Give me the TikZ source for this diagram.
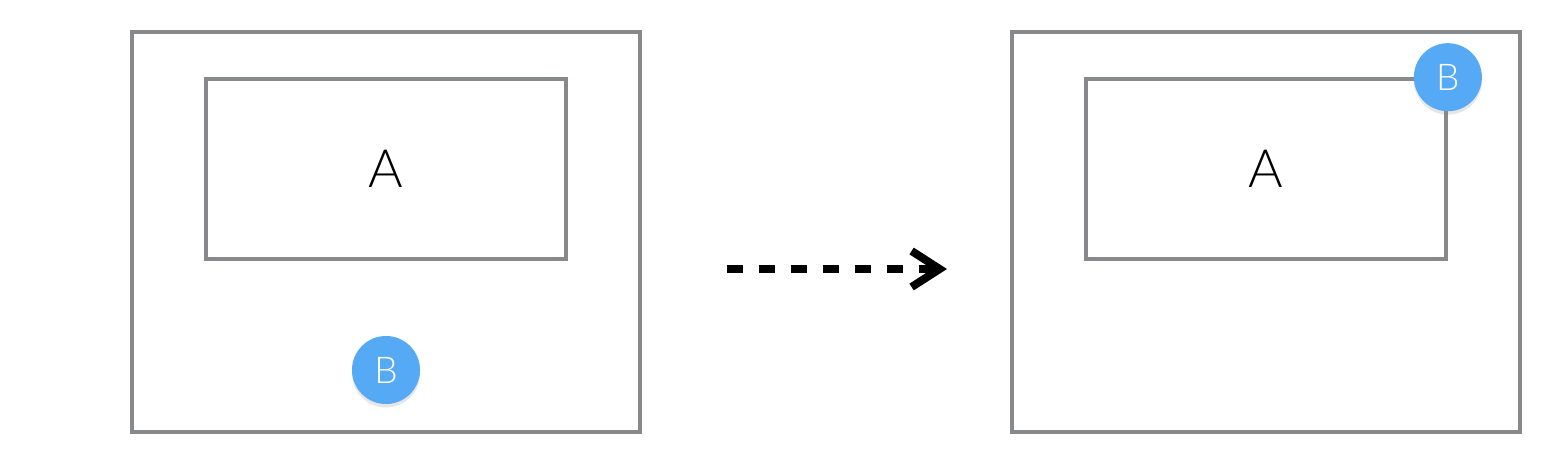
\documentclass[tikz,border=0pt]{standalone}
\usepackage{fontspec}
\setmainfont{Lato}[UprightFont={* Light}]
\usetikzlibrary{arrows.meta,shadows}
\definecolor{framegray}{HTML}{88898C}
\definecolor{bubbleblue}{HTML}{55A9F5}
\tikzset{
	outerbox/.style={draw=framegray, line width=0.035cm, inner sep=0pt, minimum width=5.08cm, minimum height=4cm},
	innerbox/.style={draw=framegray, line width=0.035cm, inner sep=0pt, minimum width=3.6cm, minimum height=1.8cm, font=\fontsize{15}{18}\selectfont},
	ball/.style={circle, fill=bubbleblue, text=white, minimum size=0.68cm, inner sep=0pt, font=\fontsize{10.5}{12}\selectfont, drop shadow={opacity=0.2, shadow xshift=0cm, shadow yshift=-0.035cm}}
}
\begin{document}
\begin{tikzpicture}[x=0.01cm, y=-0.01cm]
\useasboundingbox (0,0) rectangle (1558,470);
% before
\node[outerbox] (leftouter) at (386,232) {};
\node[innerbox] (leftinner) at (386,169) {A};
\node[ball] (leftball) at (386,370) {B};
% after
\node[outerbox] (rightouter) at (1266,232) {};
\node[innerbox] (rightinner) at (1266,169) {A};
\node[ball] (rightball) at (rightinner.north east) {B};
% move
\coordinate (start) at (727,269);
\coordinate (stop) at (947,269);
\draw[line width=0.08cm, dash pattern=on 0.16cm off 0.16cm, -{Straight Barb[length=0.28cm, width=0.36cm, line width=0.08cm]}] (start) -- (stop);
\end{tikzpicture}
\end{document}
